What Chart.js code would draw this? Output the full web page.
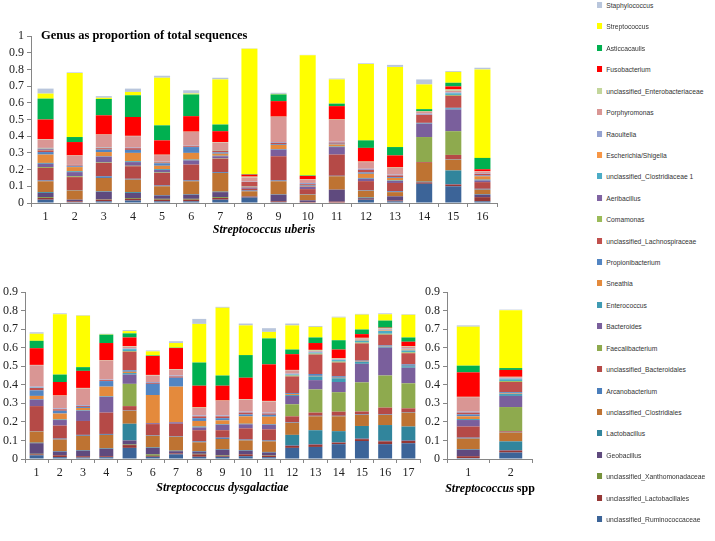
<!DOCTYPE html>
<html>
<head>
<meta charset="utf-8">
<script src="https://cdn.jsdelivr.net/npm/chart.js@4.4.1/dist/chart.umd.min.js"></script>
<style>
  body { margin: 0; background: #fff; width: 715px; height: 541px; overflow: hidden; position: relative; }
  canvas { position: absolute; }
  .title { position: absolute; left: 41px; top: 28px; font: bold 12.5px "Liberation Serif", serif; color: #000; white-space: nowrap; }
  .xtitle { position: absolute; font: bold 12px "Liberation Serif", serif; color: #000; white-space: nowrap; }
  #legend { position: absolute; left: 597px; top: 0; }
  .item { position: absolute; left: 0; height: 10px; white-space: nowrap; font: 8px "Liberation Sans", Arial, sans-serif; color: #333; line-height: 10px; transform: scaleX(0.84); transform-origin: left center; }
  .item span { display: inline-block; width: 6px; height: 6px; margin-right: 5px; vertical-align: 0px; }
</style>
</head>
<body>
<canvas id="uberis" width="505" height="245" style="left:0;top:0"></canvas>
<canvas id="dys" width="430" height="246" style="left:0;top:255px"></canvas>
<canvas id="spp" width="120" height="246" style="left:420px;top:255px"></canvas>
<div class="title">Genus as proportion of total sequences</div>
<div class="xtitle" style="left:490px;top:481px;transform:translateX(-50%)"><i>Streptococcus</i> spp</div>
<div id="legend"></div>
<script>
// genera from bottom of the stack to the top
const genera = ['unclassified_Ruminococcaceae', 'unclassified_Lactobacillales', 'unclassified_Xanthomonadaceae',
  'Geobacillus', 'Lactobacillus', 'unclassified_Clostridiales', 'Arcanobacterium', 'unclassified_Bacteroidales',
  'Faecalibacterium', 'Bacteroides', 'Enterococcus', 'Sneathia', 'Propionibacterium', 'unclassified_Lachnospiraceae',
  'Comamonas', 'Aeribacillus', 'unclassified_Clostridiaceae 1', 'Escherichia/Shigella', 'Raoultella', 'Porphyromonas',
  'unclassified_Enterobacteriaceae', 'Fusobacterium', 'Asticcacaulis', 'Streptococcus', 'Staphylococcus'];
const genusColors = ['#3C6498', '#953735', '#76923C', '#5F4A7E', '#31859C', '#BE7332', '#4A7EBB', '#B54A47',
  '#8EAA4E', '#7A5F9C', '#3F9BB3', '#E48A3C', '#5285C2', '#C0504D', '#9BBB59', '#8064A2', '#4BACC6', '#F79646',
  '#95A3D1', '#D99694', '#C3D69B', '#FF0000', '#00B050', '#FFFF00', '#B9C6DC'];

const uberisLabels = ['1','2','3','4','5','6','7','8','9','10','11','12','13','14','15','16'];
const dysLabels = ['1','2','3','4','5','6','7','8','9','10','11','12','13','14','15','16','17'];
const sppLabels = ['1','2'];

// one row per genus (same order as genera), one value per sample
const uberisValues = [
  [.02,.005,.01,.015,.01,.01,.02,.033,.005,.003,.003,.02,.01,.115,.10,.01],
  [.01,.005,.01,.01,.01,.01,.01,.005,.005,.003,.005,.005,.005,.008,.01,.025],
  [.005,0,.002,.005,.005,.005,.005,0,0,0,0,0,0,0,0,0],
  [.025,.01,.045,.03,.02,.025,.03,.002,.04,.01,.072,.005,.025,.002,.003,.015],
  [.005,0,.003,.005,.003,.003,.003,0,.002,0,0,.003,0,.003,.082,.003],
  [.065,.055,.08,.075,.052,.077,.112,.03,.078,.034,.08,.04,.025,.112,.065,.027],
  [.005,.003,.01,.005,.005,.005,.005,.005,.005,.003,.003,.003,.005,0,.003,.005],
  [.075,.077,.08,.075,.075,.095,.08,.01,.145,.03,.127,.055,.05,.005,.025,.04],
  [.005,.005,.003,.003,.003,0,.002,0,0,0,0,0,0,.15,.142,0],
  [.02,.025,.035,.022,.015,.025,.013,.008,.04,.015,.045,.015,.012,.08,.13,.01],
  [.005,.005,.002,.005,.005,.005,.003,0,.003,0,.003,.004,.003,.003,.005,.005],
  [.05,.025,.025,.05,.02,.04,.012,.005,.025,.005,.012,.025,.015,0,0,.02],
  [.015,.005,.015,.018,.015,.035,.008,.003,.005,.005,.005,.008,.005,.002,.005,.005],
  [.01,.005,.008,.01,.005,.005,.01,.025,.007,.005,.007,.015,.01,.048,.072,.01],
  [.003,0,.002,0,.002,0,.002,0,0,0,0,0,0,0,.005,0],
  [.005,0,0,.002,0,0,0,0,0,0,0,.003,0,0,0,0],
  [.002,0,0,0,0,0,0,0,0,0,0,0,0,0,.01,0],
  [.002,0,0,0,0,0,0,0,0,0,0,0,0,0,0,0],
  [.003,.003,.003,.002,.002,.003,.002,.002,.005,.007,.005,.004,.005,.007,.005,.003],
  [.05,.055,.075,.068,.04,.082,.045,.025,.15,.02,.13,.04,.04,.01,.01,.01],
  [.003,.002,.002,.002,.002,.002,.003,.005,.002,.002,.003,.003,.003,.003,.008,.002],
  [.117,.08,.115,.113,.086,.093,.065,.012,.093,.02,.08,.082,.072,.002,.018,.012],
  [.125,.03,.098,.13,.09,.13,.04,.003,.04,.003,.015,.045,.05,.012,.022,.068],
  [.03,.383,.007,.02,.285,.005,.27,.75,.003,.72,.145,.458,.48,.148,.065,.53],
  [.03,.004,.01,.02,.012,.02,.01,.002,.007,.002,.005,.004,.012,.03,.005,.01]
];

const dysValues = [
  [.02,.01,.008,.01,.06,.012,.025,.012,.012,.015,.01,.06,.065,.08,.097,.08,.085],
  [.005,.01,.007,.005,.015,.005,.005,.013,.005,.01,.008,.01,.012,.008,.01,.015,.012],
  [.003,0,0,0,.003,.008,0,.003,.003,0,.002,0,0,0,0,0,0],
  [.057,.02,.03,.04,.022,.035,.012,.012,.03,.02,.015,.003,.003,.002,.003,.003,.003],
  [.003,.003,.003,.003,.09,.003,.003,.003,.003,.003,.003,.057,.075,.06,.068,.085,.075],
  [.06,.062,.077,.072,.07,.062,.075,.047,.055,.052,.057,.065,.075,.08,.06,.055,.075],
  [.002,.005,.005,.005,.002,.003,.003,.005,.007,.005,.005,.003,.003,.003,.003,.003,.003],
  [.135,.07,.075,.115,.023,.06,.067,.06,.04,.06,.06,.032,.017,.022,.015,.036,.02],
  [0,0,0,0,.12,0,0,0,0,0,0,.065,.125,.105,.157,.173,.135],
  [.035,.03,.055,.085,.05,.005,.008,.015,.03,.022,.025,.045,.05,.055,.1,.15,.084],
  [.003,.003,.003,.003,.008,0,0,.005,.003,.003,.003,.005,.02,.02,.01,.005,.008],
  [.017,.032,.012,.052,.007,.152,.192,.03,.02,.04,.04,.005,.003,.003,.002,.002,.002],
  [.03,.015,.005,.03,.008,.06,.048,.015,.012,.01,.01,.005,.01,.008,.005,.005,.008],
  [.013,.008,.005,.005,.1,.005,.007,.01,.01,.01,.007,.09,.105,.074,.093,.058,.06],
  [0,0,0,0,.004,0,0,0,0,0,0,.005,.005,.005,.005,.005,.005],
  [0,0,0,0,0,0,0,0,0,0,0,0,0,0,0,0,0],
  [.002,0,0,0,.01,0,0,0,0,0,0,.005,.005,.008,.01,.015,.01],
  [0,0,0,0,0,0,0,0,0,0,0,0,0,0,.005,.003,.005],
  [.005,.005,.005,.003,.003,.005,.005,.005,.005,.005,.005,.005,.005,.003,.003,.005,.005],
  [.115,.067,.09,.102,.01,.035,.032,.04,.078,.065,.06,.018,.005,.004,.004,.005,.01],
  [.002,.002,.003,.002,.003,.003,.003,.003,.002,.003,.003,.002,.005,.003,.003,.003,.003],
  [.09,.073,.092,.093,.047,.102,.113,.117,.08,.115,.197,.085,.037,.047,.02,.002,.024],
  [.04,.04,.02,.045,.022,.003,.002,.125,.055,.122,.14,.025,.03,.05,.025,.038,.023],
  [.038,.325,.277,.002,.012,.022,.025,.208,.365,.16,.035,.13,.057,.122,.08,.034,.122],
  [.008,.005,.003,.003,.006,.005,.01,.027,.005,.01,.02,.01,.005,.005,.004,.005,.003]
];

const sppValues = [
  [.005,.035], [.01,.01], [0,0], [.035,.003], [.003,.047], [.057,.048], [.005,.003], [.06,.004],
  [0,.13], [.035,.06], [.005,.01], [.015,.003], [.01,.007], [.01,.055], [0,.005], [0,0],
  [0,.01], [0,0], [.005,.005], [.078,.005], [.002,.003], [.132,.037], [.036,.01], [.21,.312], [.007,.003]
];

const axisColor = '#868686';
const tickFont = { family: 'Liberation Serif', size: 12 };

function makeChart(id, labels, rows, o) {
  const datasets = genera.map((g, i) => ({
    label: g,
    data: rows[i],
    backgroundColor: genusColors[i],
    borderWidth: 0,
    barPercentage: o.bar,
    categoryPercentage: 1
  }));
  return new Chart(document.getElementById(id), {
    type: 'bar',
    data: { labels: labels, datasets: datasets },
    options: {
      responsive: false,
      animation: false,
      devicePixelRatio: 1,
      layout: { padding: { top: o.top, right: o.right, left: 0, bottom: 0 } },
      plugins: { legend: { display: false }, tooltip: { enabled: false } },
      scales: {
        x: {
          stacked: true,
          grid: { drawOnChartArea: false, color: axisColor, tickLength: 4 },
          border: { color: axisColor },
          ticks: { font: tickFont, color: '#222', maxRotation: 0, autoSkip: false },
          title: o.xTitle ? { display: true, text: o.xTitle, font: { family: 'Liberation Serif', size: 12, weight: 'bold', style: 'italic' }, color: '#000', padding: { top: 0, bottom: o.titlePad } } : { display: false },
          afterFit: s => { s.height = o.xh; }
        },
        y: {
          stacked: true,
          min: 0,
          max: o.max,
          grid: { drawOnChartArea: false, color: axisColor, tickLength: 4 },
          border: { color: axisColor },
          ticks: { stepSize: 0.1, autoSkip: false, font: tickFont, color: '#222', padding: 3, callback: v => +v.toFixed(1) },
          afterFit: s => { s.width = o.yw; }
        }
      }
    }
  });
}

makeChart('uberis', uberisLabels, uberisValues, { bar: 0.55, top: 36, right: 8, max: 1, yw: 31, xh: 42, xTitle: 'Streptococcus uberis', titlePad: 8 });
makeChart('dys', dysLabels, dysValues, { bar: 0.6, top: 37, right: 10, max: 0.9, yw: 25, xh: 42, xTitle: 'Streptococcus dysgalactiae', titlePad: 6 });
makeChart('spp', sppLabels, sppValues, { bar: 0.54, top: 37, right: 8, max: 0.9, yw: 27, xh: 42 });

// legend: top entry is the top of the stack
const legend = document.getElementById('legend');
genera.slice().reverse().forEach((g, i) => {
  const idx = genera.length - 1 - i;
  const d = document.createElement('div');
  d.className = 'item';
  d.style.top = (6 + i * 21.42 - 5) + 'px';
  d.innerHTML = '<span style="background:' + genusColors[idx] + '"></span>' + g;
  legend.appendChild(d);
});
</script>
</body>
</html>
